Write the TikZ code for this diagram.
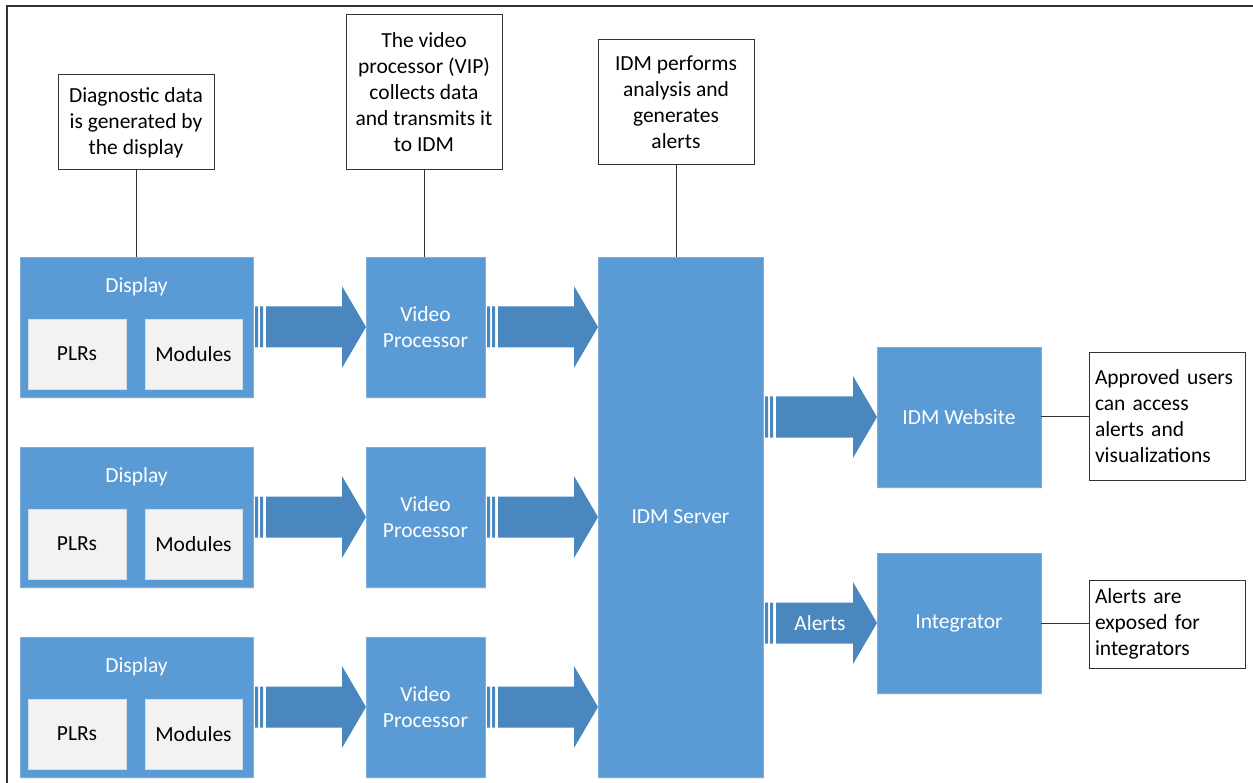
\documentclass[tikz,border=0pt]{standalone}
\usepackage{fontspec}
\setmainfont{Carlito}
\usetikzlibrary{calc,shadows}
\definecolor{boxblue}{RGB}{91,155,213}
\definecolor{boxedge}{RGB}{125,175,222}
\definecolor{arrowblue}{RGB}{74,135,190}
\definecolor{innergray}{RGB}{242,242,242}
\definecolor{inneredge}{RGB}{215,222,230}
\definecolor{framegray}{RGB}{50,50,50}
\newcommand{\diagfont}{\fontsize{21.5}{26}\selectfont}
\tikzset{
  base/.style={anchor=north west, inner sep=0pt, outer sep=0pt},
  bluebox/.style={base, fill=boxblue, draw=boxedge, line width=0.8pt,
    drop shadow={shadow xshift=1pt, shadow yshift=-2pt, opacity=0.12}},
  graybox/.style={base, fill=innergray, draw=inneredge, line width=0.6pt, font=\diagfont},
  callout/.style={base, draw=framegray, line width=1pt, fill=white, font=\diagfont, align=center},
  leftcallout/.style={callout, text width=144pt, align=left},
  wtext/.style={text=white, font=\diagfont, align=center},
  link/.style={draw=framegray, line width=1pt},
}
\newcommand{\blockarrow}[3]{%
  \fill[arrowblue] let \p1=(#1.east), \p2=(#2.west), \p3=(#3.center) in
    (\x1+2pt,\y3+20.5pt) rectangle (\x1+5pt,\y3-20.5pt)
    (\x1+7pt,\y3+20.5pt) rectangle (\x1+10pt,\y3-20.5pt)
    (\x1+13pt,\y3+20.5pt) -- (\x2-24pt,\y3+20.5pt) -- (\x2-24pt,\y3+41pt)
    -- (\x2,\y3) -- (\x2-24pt,\y3-41pt) -- (\x2-24pt,\y3-20.5pt)
    -- (\x1+13pt,\y3-20.5pt) -- cycle;}
\begin{document}
\begin{tikzpicture}[x=1pt,y=-1pt]
\useasboundingbox (0,0) rectangle (1253,783);
\fill[white] (0,0) rectangle (1253,783);
\draw[framegray, line width=2pt] (7,783) -- (7,6) -- (1253,6);

% IDM server and outputs
\node[bluebox, minimum width=165pt, minimum height=520pt, wtext] (idm) at (598,257) {IDM Server};
\node[bluebox, minimum width=164pt, minimum height=140pt, wtext] (web) at (877,347) {IDM Website};
\node[bluebox, minimum width=164pt, minimum height=140pt, wtext] (integ) at (877,553) {Integrator};

\foreach \i/\t in {1/257,2/447,3/637} {
  \node[bluebox, minimum width=233pt, minimum height=140pt] (disp\i) at (20,\t) {};
  \node[wtext] (disp\i t) at (136.5,\t+30) {Display};
  \node[graybox, minimum width=98pt, minimum height=70pt] (plr\i) at (28,\t+62) {PLRs};
  \node[graybox, minimum width=97pt, minimum height=70pt] (mod\i) at (145,\t+62) {Modules};
  \node[bluebox, minimum width=119pt, minimum height=140pt, wtext] (vp\i) at (366,\t) {Video\\Processor};
  \blockarrow{disp\i}{vp\i}{vp\i}
  \blockarrow{vp\i}{idm}{vp\i}
}

\blockarrow{idm}{web}{web}
\blockarrow{idm}{integ}{integ}
\node[wtext] (alertlbl) at (820,623) {Alerts};

% callouts
\node[callout, minimum width=156pt, minimum height=95pt] (c1) at (58,75)
  {Diagnostic data\\is generated by\\the display};
\node[callout, minimum width=156pt, minimum height=155pt] (c2) at (346,15)
  {The video\\processor (VIP)\\collects data\\and transmits it\\to IDM};
\node[callout, minimum width=156pt, minimum height=125pt] (c3) at (598,40)
  {IDM performs\\analysis and\\generates\\alerts};
\node[leftcallout, minimum width=156pt, minimum height=127pt] (c4) at (1089,353)
  {Approved users\\can access\\alerts and\\visualizations};
\node[leftcallout, minimum width=156pt, minimum height=88pt] (c5) at (1089,580)
  {Alerts are\\exposed for\\integrators};

\draw[link] (c1.south) -- (c1.south |- disp1.north);
\draw[link] (c2.south) -- (c2.south |- vp1.north);
\draw[link] (c3.south) -- (c3.south |- idm.north);
\draw[link] (web.east) -- (c4.west |- web.east);
\draw[link] (integ.east) -- (c5.west |- integ.east);
\end{tikzpicture}
\end{document}
